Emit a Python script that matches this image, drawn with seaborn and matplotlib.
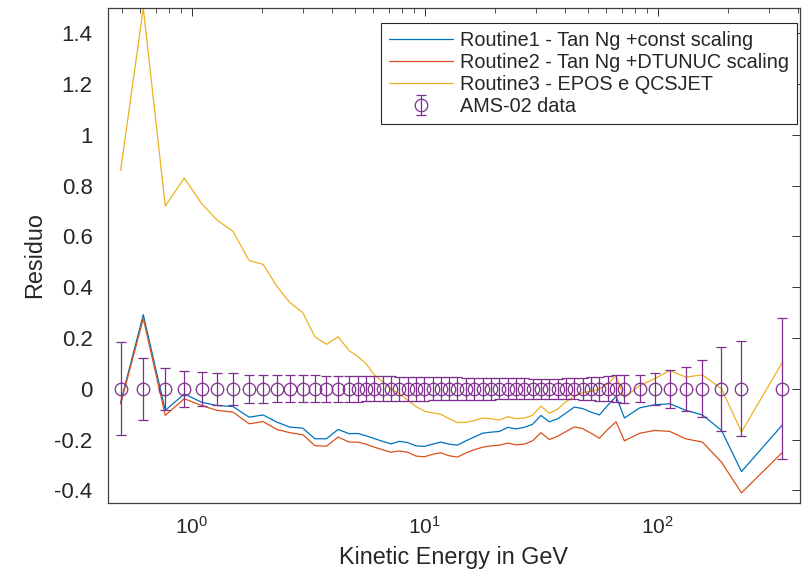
import numpy as np
import pandas as pd
import matplotlib
matplotlib.use("Agg")
import matplotlib.pyplot as plt
import seaborn as sns

# Kinetic energy bins (GeV)
energy = [0.494, 0.618, 0.768, 0.927, 1.10, 1.28, 1.50, 1.76, 2.02, 2.31, 2.63, 2.99, 3.37, 3.78, 4.24, 4.73,
          5.14, 5.58, 6.06, 6.58, 7.15, 7.77, 8.43, 9.16, 9.95, 10.8, 11.7, 12.7, 13.8, 15.0, 16.3, 17.7,
          19.2, 20.9, 22.7, 24.6, 26.7, 29.0, 31.5, 34.2, 37.2, 40.4, 43.8, 47.6, 51.7, 56.1, 61.0, 66.2, 71.9,
          83.7, 97.1, 112.6, 131.9, 155.5, 187.7, 228.7, 343.0]

# Residuals for each routine
routine1 = [-0.053, 0.292, -0.085, -0.02, -0.053, -0.066, -0.07, -0.112, -0.103, -0.131, -0.151, -0.155,
            -0.197, -0.197, -0.16, -0.177,
            -0.176, -0.185, -0.196, -0.207, -0.217, -0.207, -0.212, -0.225, -0.227, -0.218, -0.21, -0.218,
            -0.222, -0.205, -0.19, -0.175, -0.171, -0.168, -0.152, -0.158, -0.152, -0.14, -0.105, -0.13,
            -0.118, -0.095, -0.072, -0.078, -0.092, -0.103, -0.065, -0.03, -0.115,
            -0.075, -0.063, -0.059, -0.085, -0.103, -0.164, -0.326, -0.142]
routine2 = [-0.06, 0.276, -0.105, -0.039, -0.066, -0.085, -0.092, -0.138, -0.129, -0.16, -0.173, -0.181,
            -0.224, -0.226, -0.19, -0.21,
            -0.21, -0.218, -0.23, -0.24, -0.25, -0.245, -0.25, -0.265, -0.268, -0.258, -0.252, -0.264,
            -0.269, -0.253, -0.24, -0.23, -0.225, -0.222, -0.214, -0.221, -0.218, -0.205, -0.173, -0.2,
            -0.187, -0.168, -0.15, -0.157, -0.175, -0.195, -0.16, -0.13, -0.205,
            -0.175, -0.164, -0.168, -0.197, -0.21, -0.289, -0.41, -0.25]
routine3 = [0.86, 1.50, 0.72, 0.83, 0.73, 0.665, 0.62, 0.505, 0.49, 0.405, 0.34, 0.30, 0.205, 0.175, 0.205, 0.15,
            0.128, 0.10, 0.055, 0.028, 0.0, -0.02, -0.045, -0.07, -0.088, -0.095, -0.10, -0.118, -0.133,
            -0.132, -0.125, -0.115, -0.118, -0.123, -0.11, -0.118, -0.115, -0.105, -0.068, -0.097, -0.08,
            -0.05, -0.03, -0.015, -0.01, 0.0, 0.02, 0.05, -0.035,
            0.013, 0.04, 0.072, 0.046, 0.055, 0.0, -0.17, 0.105]

# AMS-02 data (residual zero) and its relative error
ams_res = [0.0] * len(energy)
ams_err = [0.183, 0.122, 0.083, 0.071, 0.067, 0.062, 0.063, 0.056, 0.055, 0.054, 0.054, 0.053, 0.053, 0.052,
           0.052, 0.052,
           0.051, 0.050, 0.050, 0.049, 0.049, 0.048, 0.048, 0.047, 0.047, 0.046, 0.046, 0.045, 0.045, 0.044,
           0.044, 0.043, 0.043, 0.042, 0.042, 0.041, 0.041, 0.040, 0.040, 0.040, 0.040, 0.041, 0.042, 0.044,
           0.046, 0.048, 0.050, 0.053, 0.056,
           0.053, 0.063, 0.074, 0.087, 0.112, 0.165, 0.187, 0.277]

labels = ["Routine1 - Tan Ng +const scaling",
          "Routine2 - Tan Ng +DTUNUC scaling",
          "Routine3 - EPOS e QCSJET"]
colors = ["#0072BD", "#D95319", "#EDB120"]
purple = "#7E2F8E"

yticks = [-0.4, -0.2, 0, 0.2, 0.4, 0.6, 0.8, 1, 1.2, 1.4]
ytick_labels = ["-0.4", "-0.2", "0", "0.2", "0.4", "0.6", "0.8", "1", "1.2", "1.4"]
xticks = [1, 10, 100]
xtick_labels = ["$10^0$", "$10^1$", "$10^2$"]

sns.set_theme(style="white")
plt.rcParams['font.family'] = ['Liberation Sans', 'DejaVu Sans']
plt.rcParams['mathtext.fontset'] = 'custom'
plt.rcParams['mathtext.rm'] = 'Liberation Sans'
plt.rcParams['mathtext.it'] = 'Liberation Sans'
plt.rcParams['axes.unicode_minus'] = False

fig = plt.figure(figsize=(8.03, 5.72), dpi=100)
ax = fig.add_axes([0.1345, 0.1206, 0.8615, 0.8654])

for vals, lab, col in zip([routine1, routine2, routine3], labels, colors):
    df = pd.DataFrame({"energy": energy, "res": vals})
    sns.lineplot(data=df, x="energy", y="res", ax=ax, color=col, label=lab,
                 linewidth=0.9, sort=False, estimator=None)

ax.errorbar(energy, ams_res, yerr=ams_err, fmt='o', mfc='none', mec=purple, ecolor=purple,
            ms=9, mew=0.9, elinewidth=0.9, capsize=3.5, capthick=0.9, label="AMS-02 data")

ax.set_xscale('log')
ax.set_xlim(0.436, 407)
ax.set_ylim(-0.45, 1.5)
ax.set_xticks(xticks)
ax.set_xticklabels(xtick_labels)
ax.set_yticks(yticks)
ax.set_yticklabels(ytick_labels)

ax.tick_params(which='both', direction='in', top=True, right=True, colors='#333333',
               labelcolor='#262626', labelsize=16)
ax.tick_params(which='major', length=6, width=0.7)
ax.tick_params(which='minor', length=3.5, width=0.6)
ax.tick_params(axis='x', pad=9, labelsize=15)
ax.tick_params(axis='y', pad=11)
for sp in ax.spines.values():
    sp.set_color('#404040')
    sp.set_linewidth(0.9)

ax.set_xlabel("Kinetic Energy in GeV", fontsize=16.8, color='#262626', labelpad=6)
ax.set_ylabel("Residuo", fontsize=16.8, color='#262626', labelpad=6)

leg = ax.legend(loc='upper right', bbox_to_anchor=(0.9957, 0.9697), borderaxespad=0,
                fontsize=14.3, frameon=True, fancybox=False, framealpha=1,
                edgecolor='#262626', handlelength=3.2, handletextpad=0.35,
                labelspacing=0.15, borderpad=0.4)
leg.get_frame().set_linewidth(0.8)

fig.savefig("out.png", dpi=100)
